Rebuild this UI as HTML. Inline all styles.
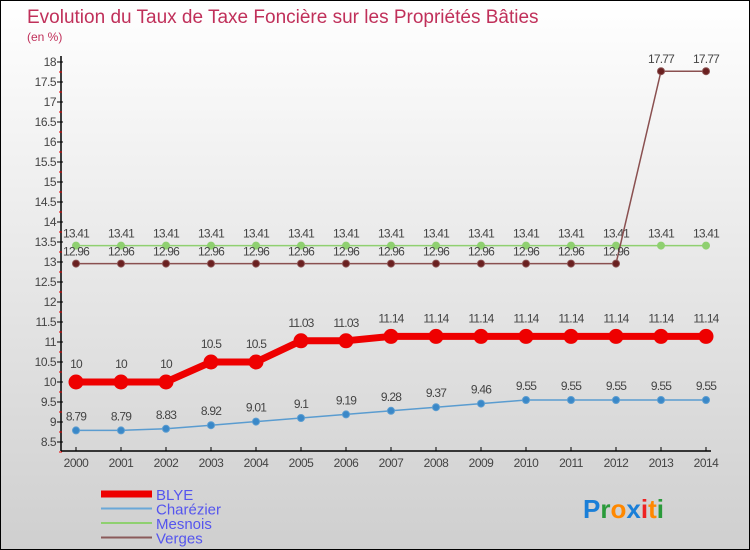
<!DOCTYPE html>
<html><head><meta charset="utf-8"><style>
body{margin:0}
#c{width:750px;height:550px;position:relative;overflow:hidden;box-sizing:border-box;border:1px solid #000;background:linear-gradient(#ffffff,#cfcfcf);font-family:"Liberation Sans",sans-serif}
</style></head><body>
<div id="c">
<svg id="s" width="750" height="550" style="position:absolute;left:0;top:0" font-family="Liberation Sans, sans-serif">
<text x="26" y="22" font-size="19" fill="#c0305a">Evolution du Taux de Taxe Foncière sur les Propriétés Bâties</text>
<text x="26" y="40" font-size="12" fill="#c0305a">(en %)</text>
</svg>
</div>
<script>
const years=[2000,2001,2002,2003,2004,2005,2006,2007,2008,2009,2010,2011,2012,2013,2014];
const blye=[10,10,10,10.5,10.5,11.03,11.03,11.14,11.14,11.14,11.14,11.14,11.14,11.14,11.14];
const charezier=[8.79,8.79,8.83,8.92,9.01,9.1,9.19,9.28,9.37,9.46,9.55,9.55,9.55,9.55,9.55];
const mesnois=[13.41,13.41,13.41,13.41,13.41,13.41,13.41,13.41,13.41,13.41,13.41,13.41,13.41,13.41,13.41];
const verges=[12.96,12.96,12.96,12.96,12.96,12.96,12.96,12.96,12.96,12.96,12.96,12.96,12.96,17.77,17.77];
const yTicks=[8.5,9,9.5,10,10.5,11,11.5,12,12.5,13,13.5,14,14.5,15,15.5,16,16.5,17,17.5,18];
const NS="http://www.w3.org/2000/svg";
const s=document.getElementById('s');
const X=i=>75+i*45;
const Y=v=>441-(v-8.5)*40;
function el(t,a,p){const e=document.createElementNS(NS,t);for(const k in a)e.setAttribute(k,a[k]);(p||s).appendChild(e);return e;}
// axes
let ax=el('line',{x1:60,y1:55,x2:60,y2:450,stroke:'#000','stroke-width':1.5});


let bx=el('line',{x1:60,y1:450,x2:710,y2:450,stroke:'#000','stroke-width':1.5});


yTicks.forEach(v=>{
  el('line',{x1:56,y1:Y(v),x2:62,y2:Y(v),stroke:'#000'});
  el('line',{x1:58,y1:Y(v)+10,x2:61,y2:Y(v)+10,stroke:'#e00'});
  const t=el('text',{x:55,y:Y(v)+4,'font-size':12,fill:'#444','text-anchor':'end','letter-spacing':'-0.5'});
  t.textContent=v;
  
  
});
years.forEach((y,i)=>{
  el('line',{x1:X(i),y1:446,x2:X(i),y2:450,stroke:'#000'});
  const t=el('text',{x:X(i),y:466,'font-size':12,fill:'#444','text-anchor':'middle','letter-spacing':'-0.5'});
  t.textContent=y;
  
  
});
function series(data,name,color,lw,r,fill,labOff){
  const g=el('g',{});
  
  
  el('polyline',{points:data.map((v,i)=>X(i)+','+Y(v)).join(' '),fill:'none',stroke:color,'stroke-width':lw},g);
  data.forEach((v,i)=>{
    const c=el('circle',{cx:X(i),cy:Y(v),r:r,fill:fill,stroke:color,'stroke-width':1},g);
    
    
    const t=el('text',{x:X(i),y:Y(v)-labOff,'font-size':12,fill:'#444','text-anchor':'middle','letter-spacing':'-0.8'},g);
    t.textContent=v;
    
    
  });
}
series(mesnois,'mesnois','#8fd070',1.5,3.5,'#8fd070',8);
series(verges,'verges','#8a5050',1.5,3.5,'#6a2020',8);
series(charezier,'charezier','#5a9cd0',1.5,3.5,'#3a88c8',10);
series(blye,'blye','#ee0000',7,7,'#ee0000',14);
// legend
const leg=[['BLYE','#ee0000',7],['Charézier','#6aa8d8',2],['Mesnois','#8fd070',2],['Verges','#8a5a5a',2]];
leg.forEach((l,i)=>{
  const y=493+i*14.5;
  const g=el('g',{});
  
  
  el('line',{x1:100,y1:y,x2:151,y2:y,stroke:l[1],'stroke-width':l[2]},g);
  const t=el('text',{x:155,y:y+6,'font-size':15,fill:'#5555ee'},g);
  t.textContent=l[0];
});
// logo
const lg=el('text',{x:582,y:517,'font-size':26,'font-weight':'bold','font-family':'Liberation Sans, sans-serif'});


[['P','#1a7fd8'],['r','#2a9a3a'],['o','#ff8800'],['x','#1a7fd8'],['i','#ee2222'],['t','#ff8800'],['i','#2a9a3a']].forEach(p=>{const ts=el('tspan',{fill:p[1]},lg);ts.textContent=p[0];});
</script>
</body></html>
